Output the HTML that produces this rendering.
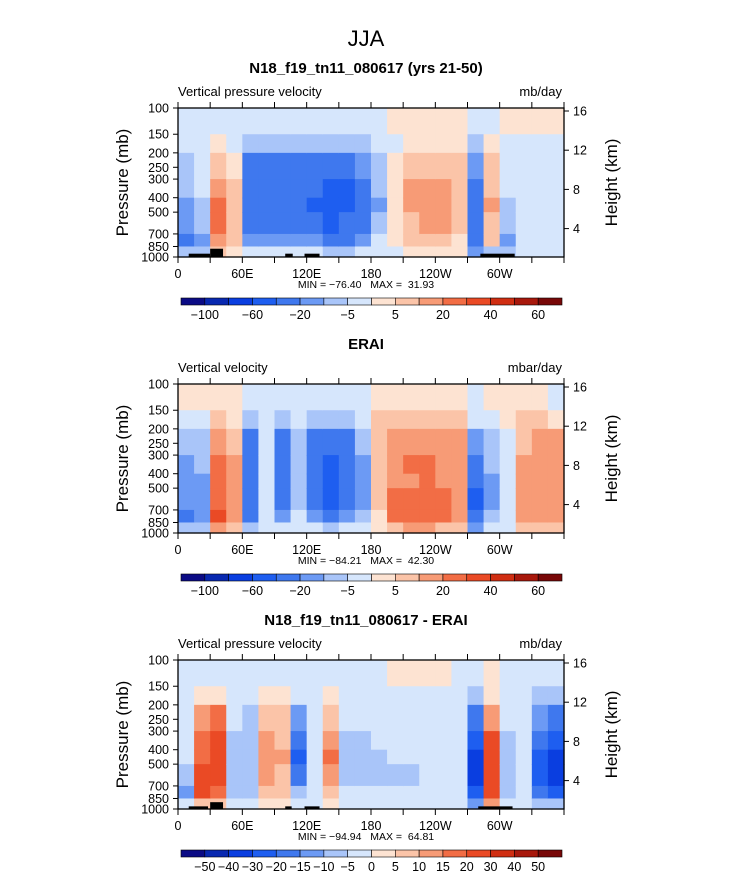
<!DOCTYPE html>
<html><head><meta charset="utf-8"><style>
body{margin:0;background:#fff;}
svg text{font-family:"Liberation Sans",sans-serif;fill:#000;}
</style></head><body>
<svg id="chart" width="733" height="873" xmlns="http://www.w3.org/2000/svg">
<text x="366" y="46" font-size="22" text-anchor="middle">JJA</text>
</svg>
<script>
// pressure band edges (mb)
const pLevels=[100,150,200,300,400,500,700,850,1000];
const xTickLabels=["0","60E","120E","180","120W","60W"];
const xTickLons=[0,60,120,180,240,300];
const pTicks=[100,150,200,250,300,400,500,700,850,1000];
const hTicks=[4,8,12,16];
const cbLevels12=[-100,-80,-60,-40,-20,-10,-5,0,5,10,20,30,40,50,60];
const cbLabels12=["-100","","-60","","-20","","-5","","5","","20","","40","","60"];
const cbLevels3=[-50,-40,-30,-20,-15,-10,-5,0,5,10,15,20,30,40,50];
const cbLabels3=["-50","-40","-30","-20","-15","-10","-5","0","5","10","15","20","30","40","50"];
const colors=["#0b0b85","#0828b0","#0a3ee0","#1e5ef0","#3f78ee","#6c9af4","#a9c5f9","#d6e6fc","#fde3d2","#fbc4a8","#f79b76","#f26d45","#ea4a25","#d02e12","#a8180c","#780808"];
// columns: 15 deg bins from 0E; rows top(100-150) to bottom(850-1000)
const model=[
[-2,-3,-8,-8,-12,-15,-25,-8],[-2,-3,-3,-4,-6,-8,-15,-10],[-2,3,8,15,25,25,15,5],[-2,-1,4,6,7,8,8,2],
[-3,-8,-25,-25,-25,-25,-15,-5],[-3,-10,-30,-30,-30,-25,-15,-5],[-3,-10,-30,-30,-30,-30,-15,-3],[-3,-10,-30,-30,-35,-30,-15,-3],
[-3,-10,-30,-35,-45,-40,-20,-5],[-3,-10,-30,-45,-50,-45,-25,-8],[-3,-10,-30,-45,-45,-40,-25,-8],[-3,-8,-20,-25,-30,-25,-15,-5],
[-2,-3,-8,-10,-12,-10,-5,-3],[2,-2,3,4,3,2,1,-1],[2,3,8,10,10,8,5,2],[2,3,8,12,15,12,8,3],
[2,3,8,12,15,12,8,3],[2,3,6,8,8,6,4,2],[-3,-10,-20,-30,-40,-40,-40,-20],[-2,2,5,8,10,8,5,-10],
[2,-2,-3,-3,-8,-10,-15,-10],[2,-2,-2,-3,-5,-5,-5,-3],[2,-2,-3,-3,-3,-3,-3,-2],[2,-2,-3,-3,-3,-3,-3,-2]];
const erai=[
[3,-3,-10,-15,-15,-20,-25,-10],[2,-3,-8,-10,-12,-15,-20,-10],[3,5,15,25,25,25,30,10],[2,3,8,10,12,15,15,5],
[-3,-8,-25,-30,-30,-30,-25,-8],[-2,-3,-5,-5,-5,-5,-3,-2],[-3,-8,-25,-35,-35,-30,-20,-5],[-3,-5,-8,-10,-10,-8,-5,-3],
[-3,-10,-25,-35,-40,-35,-20,-5],[-3,-10,-30,-45,-55,-50,-30,-8],[-3,-10,-25,-35,-40,-35,-20,-5],[-2,-5,-10,-15,-15,-12,-8,-3],
[3,5,8,8,6,5,3,2],[4,8,15,15,15,20,20,8],[4,8,15,25,15,25,25,10],[4,8,15,20,20,25,25,10],
[4,8,15,15,15,20,20,8],[3,5,10,12,12,12,10,5],[-3,-5,-20,-30,-40,-50,-40,-20],[3,-3,-8,-10,-12,-15,-10,-5],
[2,3,-2,-3,-3,-3,-3,-2],[3,5,8,10,10,12,12,5],[3,5,15,15,15,15,15,8],[-3,4,12,15,15,15,15,8]];
const diff=[
[-3,-3,-3,-3,-5,-8,-12,-5],[-3,3,10,15,18,20,20,8],[-3,3,15,25,25,25,18,5],[-3,-3,-5,-8,-10,-10,-8,-3],
[-3,-5,-8,-10,-10,-10,-8,-3],[-3,3,8,10,12,10,5,2],[-3,3,5,8,10,8,5,3],[-3,-5,-15,-20,-25,-20,-10,-5],
[-3,-3,-5,-5,-5,-5,-3,-2],[-3,3,8,12,15,12,8,3],[-3,-3,-5,-8,-8,-8,-5,-3],[-3,-3,-5,-8,-10,-10,-5,-3],
[-3,-3,-3,-5,-8,-8,-5,-3],[2,-3,-3,-3,-5,-8,-5,-3],[2,-3,-3,-3,-5,-8,-5,-3],[2,-3,-3,-3,-3,-5,-5,-3],
[2,-3,-3,-3,-3,-5,-5,-3],[-3,-3,-3,-3,-3,-5,-3,-3],[-3,-8,-20,-30,-35,-35,-30,-15],[2,3,10,20,25,25,25,10],
[-3,-3,-5,-8,-10,-10,-8,-5],[-3,-3,-5,-5,-5,-5,-5,-3],[-3,-8,-15,-20,-25,-25,-20,-10],[-3,-8,-20,-30,-35,-35,-25,-10]];
// land (lon start, lon end, top pressure)
const landA=[[10,30,950],[30,42,880],[100,107,950],[118,132,950],[282,314,950]];
const landB=[[10,28,960],[30,42,900],[100,106,960],[118,132,960],[280,312,960]];
const panelTitles=["N18_f19_tn11_080617 (yrs 21-50)","ERAI","N18_f19_tn11_080617 - ERAI"];
const leftTitles=["Vertical pressure velocity","Vertical velocity","Vertical pressure velocity"];
const units=["mb/day","mbar/day","mb/day"];
const minmax=["MIN = \u221276.40   MAX =  31.93","MIN = \u221284.21   MAX =  42.30","MIN = \u221294.94   MAX =  64.81"];

const svg=document.getElementById('chart');
const NS="http://www.w3.org/2000/svg";
const X0=178,W=386,H=149;
function mk(tag,attrs,parent){const e=document.createElementNS(NS,tag);for(const k in attrs)e.setAttribute(k,attrs[k]);(parent||svg).appendChild(e);return e;}
function xs(lon){return X0+lon/360*W;}
function colorFor(v,lv){let i=0;while(i<lv.length&&v>=lv[i])i++;return colors[i];}

function panel(k,top,data,land,lv,labels){
  const ys=p=>top+Math.log10(p/100)*H;
  const g=mk('g',{});
  
  
  const t=mk('text',{x:366,y:top-35,'font-size':15,'font-weight':'bold','text-anchor':'middle'},g);t.textContent=panelTitles[k];
  
  const lt=mk('text',{x:X0,y:top-12,'font-size':13},g);lt.textContent=leftTitles[k];
  
  const ut=mk('text',{x:X0+W-2,y:top-12,'font-size':13,'text-anchor':'end'},g);ut.textContent=units[k];
  
  const bg=mk('rect',{x:X0,y:top,width:W,height:H,fill:colors[7]},g);
  
  data.forEach((col,ci)=>{col.forEach((v,ri)=>{
    const y1=ys(pLevels[ri]),y2=ys(pLevels[ri+1]);
    const c=mk('rect',{x:xs(ci*15),y:y1,width:xs((ci+1)*15)-xs(ci*15)+0.6,height:y2-y1+0.6,fill:colorFor(v,lv)},g);
    
    
  });});
  land.forEach(l=>{const r=mk('rect',{x:xs(l[0]),y:ys(l[2]),width:xs(l[1])-xs(l[0]),height:top+H-ys(l[2]),fill:'#000'},g);
    });
  const fr=mk('rect',{x:X0,y:top,width:W,height:H,fill:'none',stroke:'#000','stroke-width':1.3},g);
  
  pTicks.forEach(p=>{const y=ys(p);mk('line',{x1:X0-5,x2:X0,y1:y,y2:y,stroke:'#000'},g);
    const tx=mk('text',{x:X0-9,y:y+4.5,'font-size':12.5,'text-anchor':'end'},g);tx.textContent=p;
    });
  hTicks.forEach(h=>{const yy=top+3+(16-h)*9.8;
    mk('line',{x1:X0+W,x2:X0+W+5,y1:yy,y2:yy,stroke:'#000'},g);
    const tx=mk('text',{x:X0+W+9,y:yy+4.5,'font-size':12.5},g);tx.textContent=h;
    });
  for(let lon=0;lon<=360;lon+=30){const x=xs(lon);mk('line',{x1:x,x2:x,y1:top+H,y2:top+H+6,stroke:'#000'},g);mk('line',{x1:x,x2:x,y1:top,y2:top-6,stroke:'#000'},g);}
  xTickLons.forEach((lon,i)=>{const tx=mk('text',{x:xs(lon),y:top+H+21,'font-size':12.5,'text-anchor':'middle'},g);tx.textContent=xTickLabels[i];
    });
  const mm=mk('text',{x:366,y:top+H+31,'font-size':10.5,'text-anchor':'middle',style:'white-space:pre'},g);mm.textContent=minmax[k];
  
  const yl=mk('text',{transform:`translate(128,${top+H/2}) rotate(-90)`,'font-size':17,'text-anchor':'middle'},g);yl.textContent="Pressure (mb)";
  
  const hl=mk('text',{transform:`translate(617,${top+H/2}) rotate(-90)`,'font-size':17,'text-anchor':'middle'},g);hl.textContent="Height (km)";
  
  // colorbar
  const cy=top+H+41,cx0=181,cw=381/16;
  colors.forEach((c,i)=>{const r=mk('rect',{x:cx0+i*cw,y:cy,width:cw,height:7,fill:c,stroke:'#000','stroke-width':0.6},g);
    });
  labels.forEach((s,i)=>{if(!s)return;const tx=mk('text',{x:cx0+(i+1)*cw,y:cy+21,'font-size':12.5,'text-anchor':'middle'},g);tx.textContent=s.replace('-','\u2212');
    });
}
panel(0,108,model,landA,cbLevels12,cbLabels12);
panel(1,384,erai,[],cbLevels12,cbLabels12);
panel(2,660,diff,landB,cbLevels3,cbLabels3);
</script>
</body></html>
